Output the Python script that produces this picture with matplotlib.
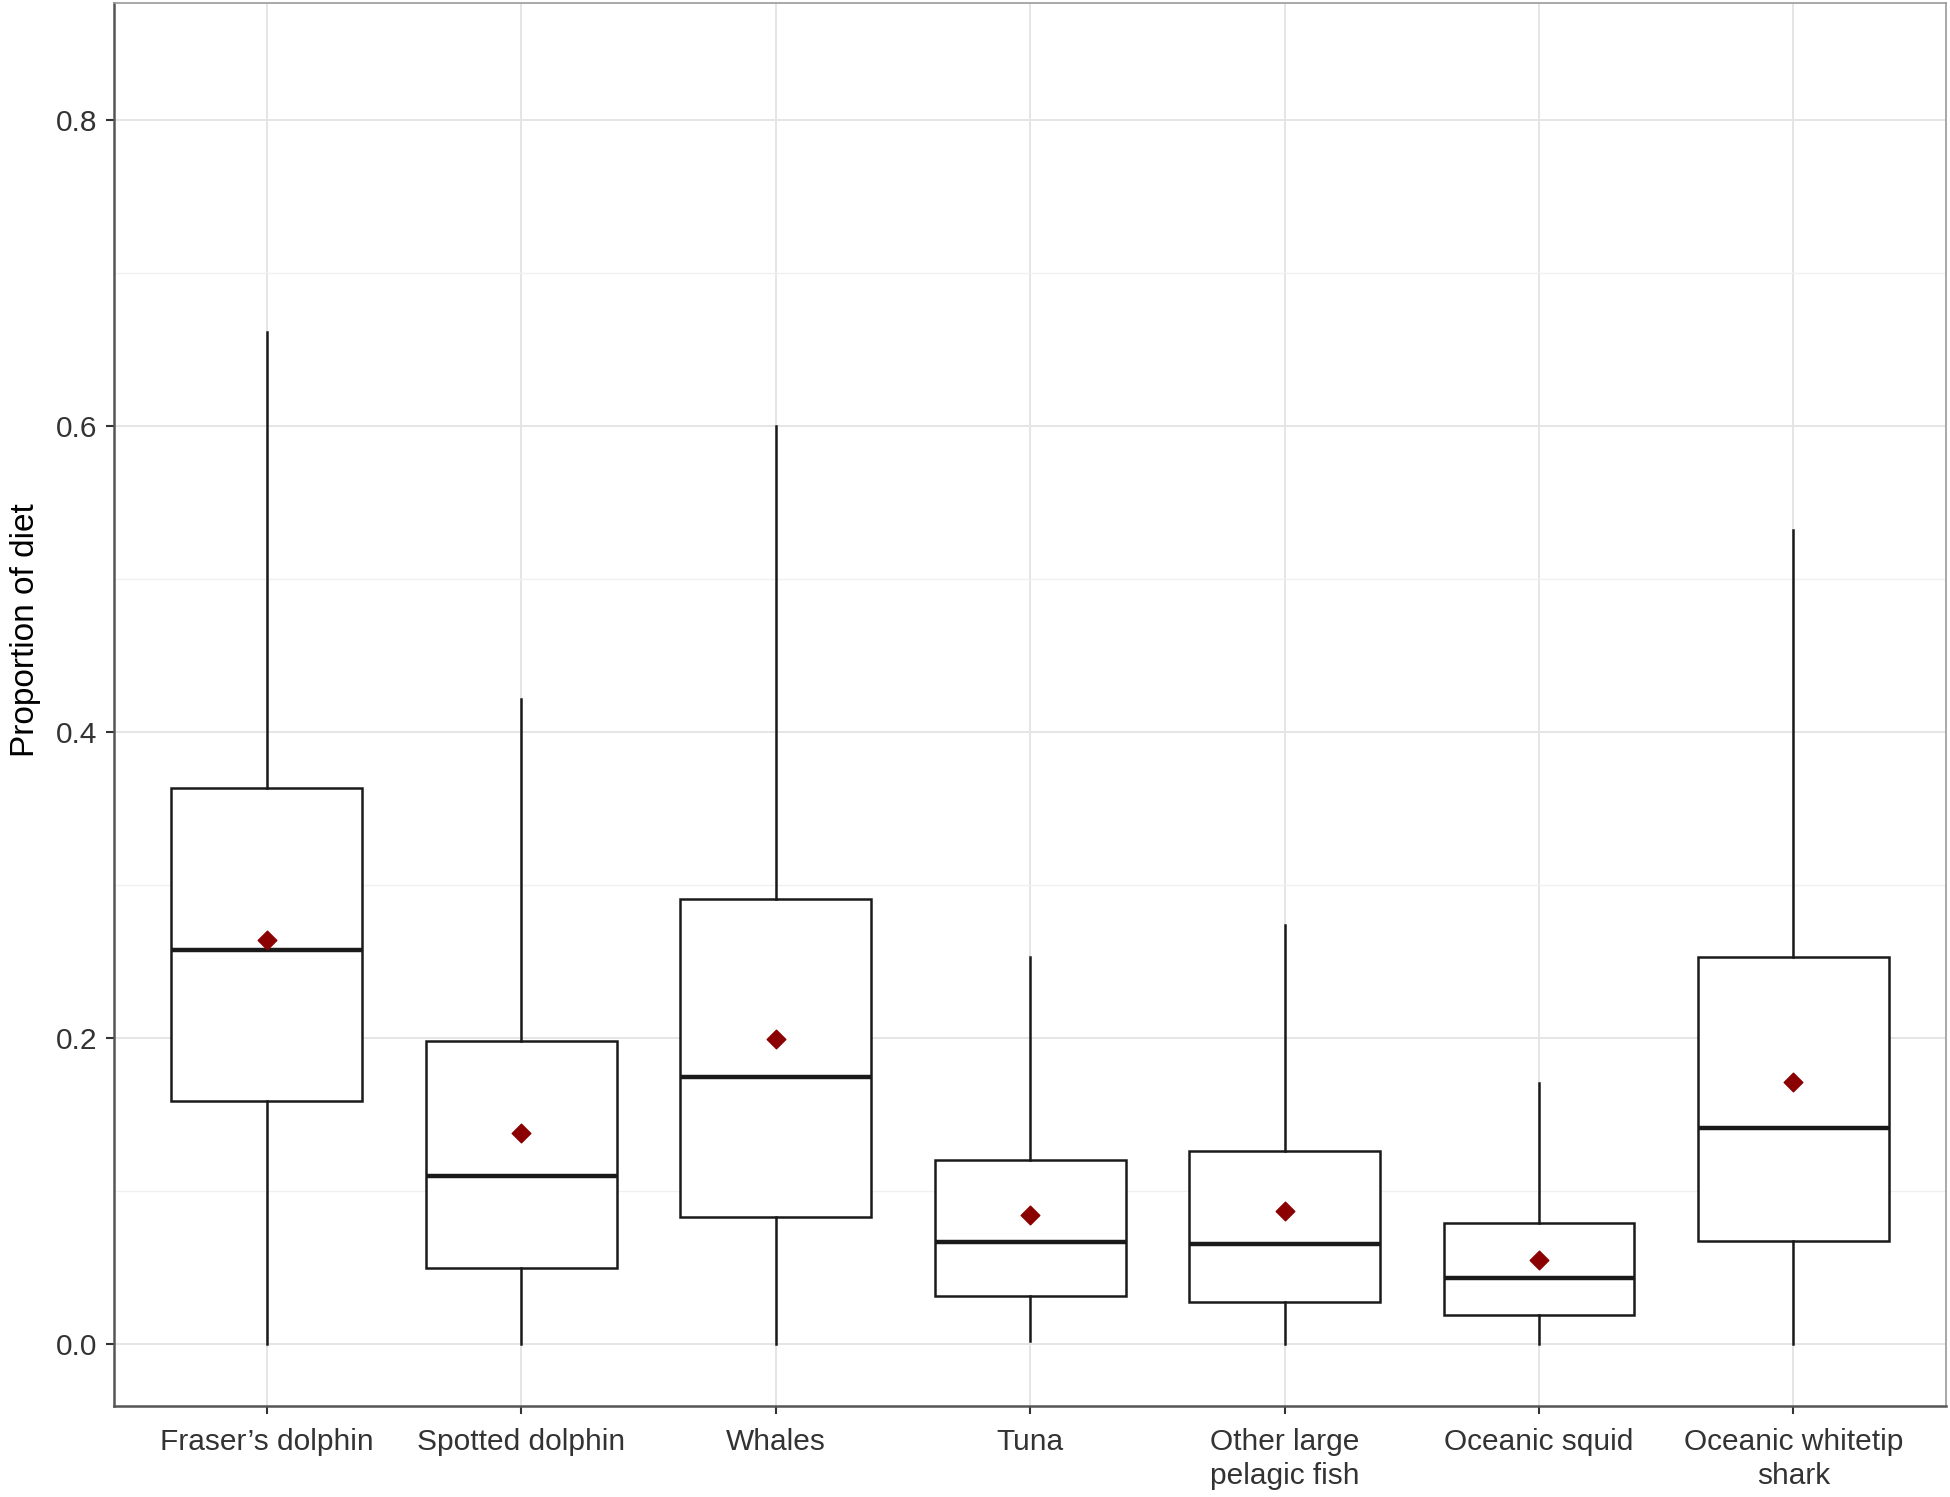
import matplotlib.pyplot as plt
import numpy as np

plt.rcParams['font.family'] = ['Liberation Sans', 'DejaVu Sans']

# categories and box statistics
groups = ["Fraser\u2019s dolphin", "Spotted dolphin", "Whales", "Tuna",
          "Other large\npelagic fish", "Oceanic squid", "Oceanic whitetip\nshark"]
whislo = [0.0, 0.0, 0.0, 0.002, 0.0, 0.0, 0.0]
q1 = [0.159, 0.0495, 0.083, 0.031, 0.0276, 0.0187, 0.0674]
med = [0.2575, 0.110, 0.1746, 0.0666, 0.065, 0.043, 0.141]
q3 = [0.363, 0.198, 0.291, 0.120, 0.126, 0.0788, 0.253]
whishi = [0.661, 0.4215, 0.600, 0.253, 0.274, 0.1706, 0.532]
means = [0.264, 0.138, 0.199, 0.0845, 0.087, 0.055, 0.171]

stats = []
for i in range(len(groups)):
    stats.append(dict(whislo=whislo[i], q1=q1[i], med=med[i], q3=q3[i],
                      whishi=whishi[i], fliers=[], label=groups[i]))

fig = plt.figure(figsize=(19.5, 14.97), dpi=100)
ax = fig.add_axes([0.0585, 0.0608, 0.9395, 0.937])

pos = np.arange(1, len(groups) + 1)
ax.bxp(stats, positions=pos, widths=0.75, patch_artist=True, showcaps=False,
       boxprops=dict(facecolor='white', edgecolor='#1a1a1a', linewidth=1.8),
       medianprops=dict(color='#1a1a1a', linewidth=3.2),
       whiskerprops=dict(color='#1a1a1a', linewidth=1.8),
       zorder=2)
ax.scatter(pos, means, marker='D', s=90, color='#8b0000', zorder=3)

ax.set_xlim(0.4, 7.6)
ax.set_ylim(-0.0406, 0.876)
ax.set_yticks([0.0, 0.2, 0.4, 0.6, 0.8])
ax.set_yticklabels(['0.0', '0.2', '0.4', '0.6', '0.8'])
ax.set_yticks([0.1, 0.3, 0.5, 0.7], minor=True)
ax.set_xticks(pos)
ax.set_xticklabels(groups, linespacing=1.25)

ax.grid(True, which='major', color='#e5e5e5', linewidth=1.4, zorder=0)
ax.grid(True, which='minor', axis='y', color='#f0f0f0', linewidth=1.0, zorder=0)
ax.set_axisbelow(True)
ax.tick_params(which='minor', length=0)
ax.tick_params(which='major', length=6, width=1.5, color='#333333',
               labelsize=21.5, labelcolor='#333333')
ax.tick_params(axis='x', pad=10)
ax.tick_params(axis='y', pad=6)

for side in ['top', 'right']:
    ax.spines[side].set_color('#999999')
    ax.spines[side].set_linewidth(1.2)
for side in ['left', 'bottom']:
    ax.spines[side].set_color('#555555')
    ax.spines[side].set_linewidth(1.8)

ax.set_ylabel('Proportion of diet', fontsize=24)
ax.yaxis.set_label_coords(-0.040, 0.553)

fig.savefig('out.png', dpi=100)
